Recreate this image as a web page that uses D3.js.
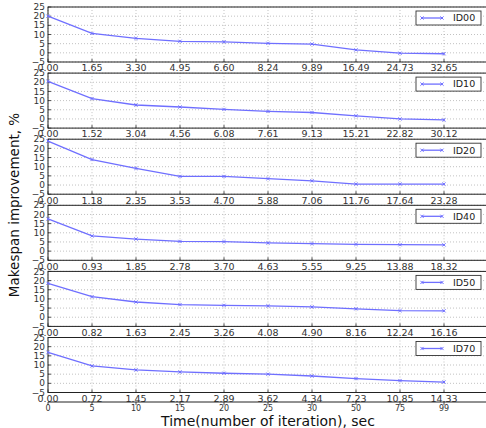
<!DOCTYPE html>
<html>
<head>
<meta charset="utf-8">
<script src="https://cdn.jsdelivr.net/npm/d3@7"></script>
<style>
  body { margin: 0; background: #fff; }
  svg { font-family: "DejaVu Sans", sans-serif; }
</style>
</head>
<body>
<div class="makespan_plot"></div>
<script>
// data
const ids = ['ID00', 'ID10', 'ID20', 'ID40', 'ID50', 'ID70'];
const iterations = [0, 5, 10, 15, 20, 25, 30, 50, 75, 99];

const timeLabels = [
  ['0.00','1.65','3.30','4.95','6.60','8.24','9.89','16.49','24.73','32.65'],
  ['0.00','1.52','3.04','4.56','6.08','7.61','9.13','15.21','22.82','30.12'],
  ['0.00','1.18','2.35','3.53','4.70','5.88','7.06','11.76','17.64','23.28'],
  ['0.00','0.93','1.85','2.78','3.70','4.63','5.55','9.25','13.88','18.32'],
  ['0.00','0.82','1.63','2.45','3.26','4.08','4.90','8.16','12.24','16.16'],
  ['0.00','0.72','1.45','2.17','2.89','3.62','4.34','7.23','10.85','14.33']
];

const id00 = [20, 10.6, 7.9, 6.3, 6.0, 5.2, 4.8, 1.6, -0.2, -0.5];
const id10 = [20.5, 11.1, 7.6, 6.5, 5.2, 4.1, 3.5, 1.7, 0, -0.5];
const id20 = [24, 13.9, 9.1, 4.7, 4.7, 3.5, 2.3, 0.5, 0.5, 0.5];
const id40 = [17.6, 8.3, 6.6, 5.3, 5.2, 4.5, 4.1, 3.7, 3.5, 3.4];
const id50 = [18.5, 11.2, 8.3, 6.9, 6.5, 6.2, 5.6, 4.6, 3.6, 3.5];
const id70 = [16.9, 9.5, 7.3, 6.2, 5.5, 5.0, 4.0, 2.6, 1.5, 0.7];
const series = [id00, id10, id20, id40, id50, id70];

const yTicks = [-5, 0, 5, 10, 15, 20, 25];

const width = 486, height = 428;
const left = 48, right = 488;
const panelTop = 7, panelStep = 66.1, panelH = 55;

const svg = d3.select('.makespan_plot')
              .append('svg')
              .attr('width', width)
              .attr('height', height);

const xScale = d3.scaleLinear().domain([0, 10]).range([left, right]);
const lineColor = '#6f6fff';

series.forEach((vals, p) => {
    const top = panelTop + p * panelStep;
    const yScale = d3.scaleLinear().domain([-5, 25]).range([top + panelH, top]);
    const g = svg.append('g');

    // grid
    g.selectAll('.vgrid').data(iterations).enter().append('line')
     .attr('x1', (d, i) => xScale(i)).attr('x2', (d, i) => xScale(i))
     .attr('y1', top).attr('y2', top + panelH)
     .attr('stroke', '#999').attr('stroke-width', 0.6).attr('stroke-dasharray', '1,2');
    g.selectAll('.hgrid').data(yTicks).enter().append('line')
     .attr('x1', left).attr('x2', right)
     .attr('y1', d => yScale(d)).attr('y2', d => yScale(d))
     .attr('stroke', '#999').attr('stroke-width', 0.6).attr('stroke-dasharray', '1,2');

    // frame
    g.append('rect')
     .attr('x', left).attr('y', top)
     .attr('width', right - left).attr('height', panelH)
     .attr('fill', 'none').attr('stroke', '#222').attr('stroke-width', 1);

    // ticks inward
    g.selectAll('.ytick').data(yTicks).enter().append('line')
     .attr('x1', left).attr('x2', left + 3)
     .attr('y1', d => yScale(d)).attr('y2', d => yScale(d))
     .attr('stroke', '#222').attr('stroke-width', 0.8);
    g.selectAll('.xtick').data(iterations).enter().append('line')
     .attr('x1', (d, i) => xScale(i)).attr('x2', (d, i) => xScale(i))
     .attr('y1', top + panelH).attr('y2', top + panelH - 3)
     .attr('stroke', '#222').attr('stroke-width', 0.8);

    // y labels
    g.selectAll('.ylab').data(yTicks).enter().append('text')
     .attr('x', left - 3).attr('y', d => yScale(d))
     .attr('dy', '0.35em').attr('text-anchor', 'end')
     .attr('font-size', 9).attr('fill', '#333')
     .text(d => d < 0 ? '\u2212' + Math.abs(d) : d);

    // x labels (time)
    g.selectAll('.xlab').data(timeLabels[p]).enter().append('text')
     .attr('x', (d, i) => xScale(i)).attr('y', top + panelH + 6)
     .attr('dy', '0.35em').attr('text-anchor', 'middle')
     .attr('font-size', 9.5).attr('fill', '#333')
     .text(d => d);

    // series line
    const line = d3.line().x((d, i) => xScale(i)).y(d => yScale(d));
    g.append('path').datum(vals)
     .attr('d', line).attr('fill', 'none')
     .attr('stroke', lineColor).attr('stroke-width', 1.3);
    g.selectAll('.pt').data(vals).enter().append('path')
     .attr('d', (d, i) => {
        const cx = xScale(i), cy = yScale(d), r = 1.6;
        return `M${cx - r},${cy - r}L${cx + r},${cy + r}M${cx - r},${cy + r}L${cx + r},${cy - r}`;
     })
     .attr('stroke', lineColor).attr('stroke-width', 1);

    // legend
    const lg = g.append('g').attr('transform', `translate(416, ${top + 4})`);
    lg.append('rect').attr('width', 65).attr('height', 14)
      .attr('fill', '#fff').attr('stroke', '#333').attr('stroke-width', 0.9);
    lg.append('line').attr('x1', 6).attr('x2', 26).attr('y1', 7).attr('y2', 7)
      .attr('stroke', lineColor).attr('stroke-width', 1.3);
    [6, 26].forEach(cx => {
        lg.append('path')
          .attr('d', `M${cx - 1.6},5.4L${cx + 1.6},8.6M${cx - 1.6},8.6L${cx + 1.6},5.4`)
          .attr('stroke', lineColor).attr('stroke-width', 1);
    });
    lg.append('text').attr('x', 37).attr('y', 7).attr('dy', '0.35em')
      .attr('font-size', 9.5).attr('fill', '#222').text(ids[p]);
});

// secondary iteration axis under the last panel
const axisY = 402;
svg.append('line').attr('x1', left).attr('x2', right)
   .attr('y1', axisY).attr('y2', axisY)
   .attr('stroke', '#222').attr('stroke-width', 1);
svg.selectAll('.itick').data(iterations).enter().append('line')
   .attr('x1', (d, i) => xScale(i)).attr('x2', (d, i) => xScale(i))
   .attr('y1', axisY).attr('y2', axisY + 3)
   .attr('stroke', '#222').attr('stroke-width', 0.8);
svg.selectAll('.ilab').data(iterations).enter().append('text')
   .attr('x', (d, i) => xScale(i)).attr('y', axisY + 6)
   .attr('dy', '0.35em').attr('text-anchor', 'middle')
   .attr('font-size', 8).attr('fill', '#333')
   .text(d => d);

// axis titles
svg.append('text')
   .attr('x', 268).attr('y', 421).attr('dy', '0.35em')
   .attr('text-anchor', 'middle').attr('font-size', 14).attr('fill', '#111')
   .text('Time(number of iteration), sec');

svg.append('text')
   .attr('transform', 'translate(14, 205) rotate(-90)')
   .attr('dy', '0.35em')
   .attr('text-anchor', 'middle').attr('font-size', 13.5).attr('fill', '#111')
   .text('Makespan improvement, %');
</script>
</body>
</html>
